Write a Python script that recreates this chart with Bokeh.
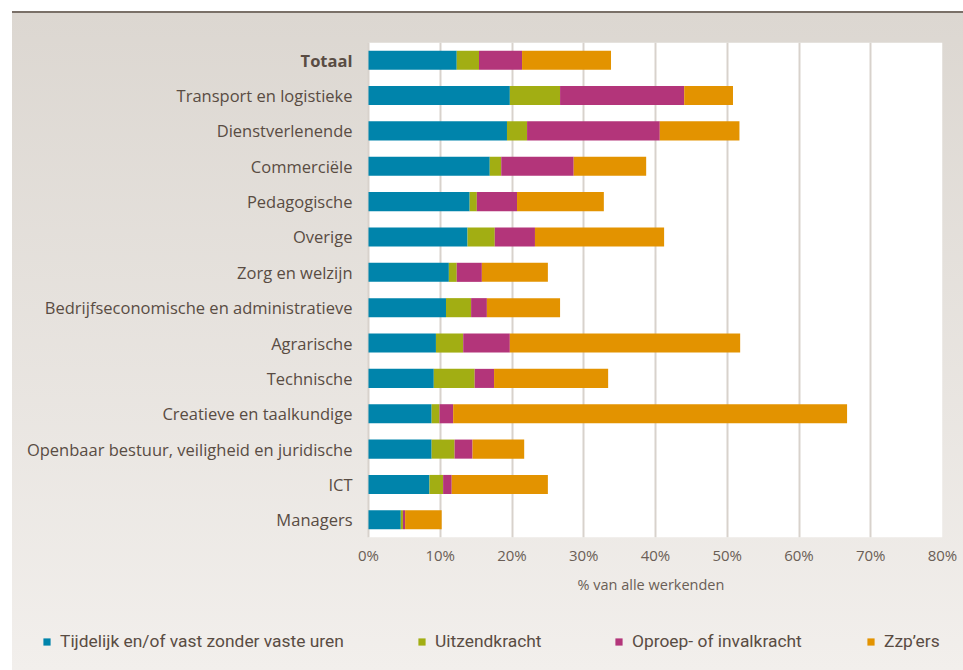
from bokeh.plotting import figure
from bokeh.layouts import column
from bokeh.models import (FactorRange, Range1d, Legend, LegendItem, BoxAnnotation, Title,
                          FixedTicker, PrintfTickFormatter, ColumnDataSource)
from bokeh.core.properties import value
from bokeh.embed import file_html
from bokeh.resources import INLINE

# ---- data ----
categories = ["Totaal", "Transport en logistieke", "Dienstverlenende", "Commerciële",
              "Pedagogische", "Overige", "Zorg en welzijn",
              "Bedrijfseconomische en administratieve", "Agrarische", "Technische",
              "Creatieve en taalkundige", "Openbaar bestuur, veiligheid en juridische",
              "ICT", "Managers"]
label_styles = ["bold"] + ["normal"] * 13
tijdelijk = [12.3, 19.7, 19.3, 16.9, 14.1, 13.8, 11.2, 10.8, 9.4, 9.1, 8.8, 8.8, 8.5, 4.5]
uitzend   = [3.1, 7.0, 2.8, 1.6, 1.0, 3.8, 1.1, 3.5, 3.8, 5.7, 1.1, 3.2, 1.9, 0.3]
oproep    = [6.0, 17.3, 18.5, 10.1, 5.6, 5.6, 3.5, 2.2, 6.5, 2.7, 1.9, 2.5, 1.2, 0.3]
zzp       = [12.4, 6.8, 11.1, 10.1, 12.1, 18.0, 9.2, 10.2, 32.1, 15.9, 54.9, 7.2, 13.4, 5.1]
series_names = ["Tijdelijk en/of vast zonder vaste uren", "Uitzendkracht",
                "Oproep- of invalkracht", "Zzp\u2019ers"]
colors = ["#0084ab", "#a2ae13", "#b3357a", "#e39300"]
x_ticks = [0, 10, 20, 30, 40, 50, 60, 70, 80]
x_max = 80
x_title = "% van alle werkenden"

stack_cols = ["s0", "s1", "s2", "s3"]
source = ColumnDataSource(dict(cat=categories, style=label_styles,
                               s0=tijdelijk, s1=uitzend, s2=oproep, s3=zzp))

TEXT = "#594c43"
AXIS_TEXT = "#6a5e56"
FONT = "Open Sans"

# layout (pixels): frame spans the label area too, value 0 sits at zero_px
W = 963
CHART_H, LEGEND_H = 600, 70
left_px, zero_px, right_px = 12, 368, 942
top_px, bottom_px = 42, 537
x_start = -x_max * (zero_px - left_px) / (right_px - zero_px)

p = figure(width=W, height=CHART_H,
           y_range=FactorRange(factors=categories[::-1], range_padding=0),
           x_range=Range1d(x_start, x_max),
           y_axis_location=None,
           output_backend="svg", toolbar_location=None,
           min_border_left=left_px, min_border_right=W - right_px,
           min_border_top=top_px, min_border_bottom=CHART_H - bottom_px)

p.border_fill_color = None
p.background_fill_color = None
p.outline_line_color = None

# white plot area
p.add_layout(BoxAnnotation(left=0, right=x_max, fill_color="#ffffff", fill_alpha=1,
                           line_color=None, level="image"))

renderers = p.hbar_stack(stack_cols, y="cat", height=0.54,
                         color=colors, line_color=None, source=source)

# category labels
p.text(x=0, y="cat", text="cat", source=source, x_offset=-16,
       text_align="right", text_baseline="middle",
       text_font=value(FONT), text_font_size="16.5px",
       text_font_style="style", text_color=TEXT)

# grid
p.ygrid.grid_line_color = None
p.xgrid.grid_line_color = "#d8d2cc"
p.xgrid.grid_line_width = 2

# x axis
p.xaxis.ticker = FixedTicker(ticks=x_ticks)
p.xgrid.ticker = FixedTicker(ticks=x_ticks)
p.xaxis.formatter = PrintfTickFormatter(format="%d%%")
p.xaxis.axis_line_color = None
p.xaxis.major_tick_line_color = None
p.xaxis.minor_tick_line_color = None
p.xaxis.major_tick_out = 0
p.xaxis.major_tick_in = 0
p.xaxis.major_label_text_font = FONT
p.xaxis.major_label_text_font_size = "15px"
p.xaxis.major_label_standoff = 7
p.xaxis.major_label_text_color = AXIS_TEXT

# axis title, over the value area
p.add_layout(Title(text=x_title, align="left", offset=577 - left_px, standoff=11,
                   text_font=FONT, text_font_size="14.5px", text_font_style="normal",
                   text_color=AXIS_TEXT), "below")

# ---- legend strip ----
p2 = figure(width=W, height=LEGEND_H,
            y_range=FactorRange(factors=categories[::-1]), x_range=Range1d(-1, 0),
            x_axis_location=None, y_axis_location=None,
            output_backend="svg", toolbar_location=None,
            min_border_left=0, min_border_right=0, min_border_top=0, min_border_bottom=0)
p2.border_fill_color = None
p2.background_fill_color = None
p2.outline_line_color = None
p2.grid.visible = False
leg_renderers = p2.hbar_stack(stack_cols, y="cat", height=0.54,
                              color=colors, line_color=None, source=source)
for r in leg_renderers:
    r.visible = False

legend_x = [30, 405, 602, 854]
for name, r, lx in zip(series_names, leg_renderers, legend_x):
    lg = Legend(items=[LegendItem(label=name, renderers=[r])],
                location=(lx, 19), orientation="horizontal",
                glyph_width=9, glyph_height=9, label_height=18,
                label_standoff=9, padding=0, margin=0, spacing=0,
                border_line_color=None, background_fill_alpha=0,
                label_text_font="Roboto", label_text_font_size="17.4px",
                label_text_color=TEXT)
    p2.add_layout(lg, "center")

layout = column(p, p2, spacing=0)
layout.styles = {"background": "linear-gradient(to right, #ffffff 0px, #ffffff 12px, transparent 12px), "
                               "linear-gradient(to bottom, #ffffff 0px, #ffffff 11px, #7a7068 11px, "
                               "#7a7068 13px, #dcd7d1 13px, #f2efec 100%)"}

open("out.html", "w").write(file_html(layout, INLINE))
